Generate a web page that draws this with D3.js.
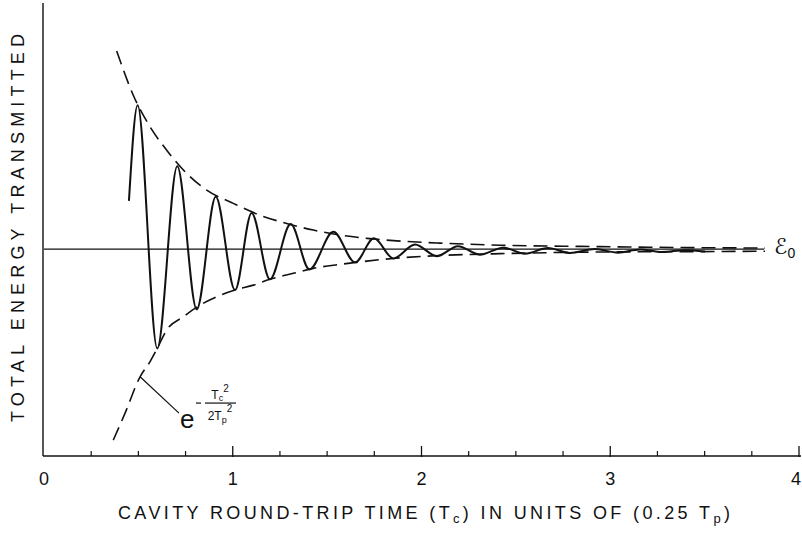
<!DOCTYPE html>
<html>
<head>
<meta charset="utf-8">
<script src="https://cdn.jsdelivr.net/npm/d3@7"></script>
<style>
  html, body { margin: 0; padding: 0; background: #fff; }
  svg { display: block; }
  text { font-family: "Liberation Sans", "DejaVu Sans", sans-serif; fill: #111; }
</style>
</head>
<body>
<svg id="chart" width="802" height="538"></svg>
<script>
// ---- data ----
const xTickLabels = ["0", "1", "2", "3", "4"];
const xMajorTicks = [0, 1, 2, 3, 4];
const xMinorTicks = [0.25, 0.5, 0.75, 1.25, 1.5, 1.75, 2.25, 2.5, 2.75, 3.25, 3.5, 3.75];
const E0 = 1.0;
const e0Extent = [0, 3.815];

// transmitted energy (damped oscillation), x = Tc in units of 0.25 Tp
const energyX = [0.450, 0.496, 0.600, 0.706, 0.809, 0.910, 1.012, 1.100, 1.197, 1.307, 1.406, 1.533, 1.648, 1.748, 1.851,
                 1.966, 2.082, 2.193, 2.310, 2.432, 2.548, 2.670, 2.787, 2.919, 3.041, 3.157, 3.274, 3.396, 3.502];
const energyY = [1.233, 1.696, 0.520, 1.401, 0.709, 1.253, 0.802, 1.175, 0.854, 1.121, 0.902, 1.084, 0.936, 1.052, 0.955,
                 1.022, 0.966, 1.014, 0.973, 1.007, 0.978, 1.005, 0.981, 1.000, 0.983, 0.998, 0.986, 0.995, 0.988];

// upper envelope (dashed)
const upperX = [0.385, 0.473, 0.562, 0.650, 0.756, 0.862, 1.003, 1.144, 1.286, 1.427, 1.568, 1.710, 1.869, 2.098, 2.416, 2.946, 3.475, 3.820];
const upperY = [1.958, 1.744, 1.591, 1.478, 1.366, 1.285, 1.221, 1.164, 1.124, 1.092, 1.068, 1.052, 1.040, 1.029, 1.019, 1.012, 1.007, 1.005];
// lower envelope (dashed)
const lowerX = [0.367, 0.429, 0.509, 0.562, 0.600, 0.650, 0.738, 0.826, 0.915, 1.012, 1.109, 1.197, 1.321, 1.427, 1.568, 1.710, 1.851, 2.098, 2.416, 2.946, 3.475, 3.820];
const lowerY = [0.077, 0.206, 0.383, 0.456, 0.520, 0.609, 0.673, 0.729, 0.770, 0.802, 0.826, 0.854, 0.883, 0.907, 0.926, 0.942, 0.955, 0.969, 0.978, 0.986, 0.988, 0.990];

// annotation: anchor on lower envelope, and position of the "e" label
const annAnchor = [0.509, 0.383];
const annLabel = [0.7205, 0.135];

// ---- drawing ----
const svg = d3.select("#chart");
const x = d3.scaleLinear().domain([0, 4]).range([44, 799]);
const y = d3.scaleLinear().domain([0, 2.18]).range([456, 5]);

const zip = (xs, ys) => xs.map((v, i) => [v, ys[i]]);

// axes lines
svg.append("line").attr("x1", x(0) - 1).attr("x2", x(0) - 1).attr("y1", y(2.18) - 2).attr("y2", y(0))
  .attr("stroke", "#111").attr("stroke-width", 1.4);
const xAxis = d3.axisBottom(x).tickValues(xMajorTicks).tickSize(0).tickFormat("");
svg.append("g").attr("transform", `translate(0,${y(0)})`).call(xAxis)
  .call(g => g.select(".domain").attr("stroke", "#111").attr("stroke-width", 1.4).attr("d", `M${x(0)-1},0H${x(4)+2}`));

// ticks (pointing up into the plot)
svg.append("g").selectAll("line.maj").data(xMajorTicks.filter(d => d > 0)).join("line")
  .attr("x1", d => x(d)).attr("x2", d => x(d)).attr("y1", y(0) - 10).attr("y2", y(0) + 1)
  .attr("stroke", "#111").attr("stroke-width", 1.3);
svg.append("g").selectAll("line.min").data(xMinorTicks).join("line")
  .attr("x1", d => x(d)).attr("x2", d => x(d)).attr("y1", y(0) - 5).attr("y2", y(0))
  .attr("stroke", "#111").attr("stroke-width", 1.2);

// tick labels
svg.append("g").selectAll("text").data(xMajorTicks).join("text")
  .attr("x", d => d === 4 ? x(d) - 3 : x(d)).attr("y", 485).attr("text-anchor", "middle")
  .attr("font-size", 18).text((d, i) => xTickLabels[i]);

// E0 reference line
svg.append("line").attr("x1", x(e0Extent[0])).attr("x2", x(e0Extent[1]))
  .attr("y1", y(E0)).attr("y2", y(E0)).attr("stroke", "#111").attr("stroke-width", 1.1);
svg.append("text").attr("x", x(e0Extent[1]) + 10).attr("y", y(E0) + 5)
  .attr("font-size", 22).attr("font-family", "DejaVu Serif").attr("font-style", "italic")
  .text("ℰ").append("tspan").attr("font-size", 14).attr("dy", 4).attr("font-style", "normal")
  .attr("font-family", "Liberation Sans").text("0");

// envelopes
const envLine = d3.line().x(d => x(d[0])).y(d => y(d[1])).curve(d3.curveMonotoneX);
[zip(upperX, upperY), zip(lowerX, lowerY)].forEach(pts => {
  svg.append("path").attr("d", envLine(pts)).attr("fill", "none")
    .attr("stroke", "#111").attr("stroke-width", 1.6).attr("stroke-dasharray", "14,7");
});

// transmitted energy curve
const eLine = d3.line().x(d => x(d[0])).y(d => y(d[1])).curve(d3.curveMonotoneX);
svg.append("path").attr("d", eLine(zip(energyX, energyY))).attr("fill", "none")
  .attr("stroke", "#111").attr("stroke-width", 2).attr("stroke-linejoin", "round");

// annotation
const ax = x(annAnchor[0]), ay = y(annAnchor[1]);
const lx = x(annLabel[0]), ly = y(annLabel[1]);
svg.append("line").attr("x1", ax).attr("y1", ay).attr("x2", lx - 1).attr("y2", ly - 15)
  .attr("stroke", "#111").attr("stroke-width", 1.2);
svg.append("text").attr("x", lx).attr("y", ly).attr("font-size", 26).text("e");
svg.append("line").attr("x1", lx + 16).attr("x2", lx + 21).attr("y1", ly - 25).attr("y2", ly - 25)
  .attr("stroke", "#111").attr("stroke-width", 1.2);
svg.append("line").attr("x1", lx + 25).attr("x2", lx + 56).attr("y1", ly - 25).attr("y2", ly - 25)
  .attr("stroke", "#111").attr("stroke-width", 1.2);
const num = svg.append("text").attr("x", lx + 40).attr("y", ly - 29).attr("font-size", 12).attr("text-anchor", "middle");
num.append("tspan").text("T");
num.append("tspan").attr("font-size", 9).attr("dy", 2).text("c");
num.append("tspan").attr("font-size", 10).attr("dy", -9).text("2");
const den = svg.append("text").attr("x", lx + 40).attr("y", ly - 8).attr("font-size", 12).attr("text-anchor", "middle");
den.append("tspan").text("2T");
den.append("tspan").attr("font-size", 9).attr("dy", 3).text("p");
den.append("tspan").attr("font-size", 10).attr("dy", -11).text("2");

// axis titles
const xt = svg.append("text").attr("x", 424).attr("y", 519).attr("text-anchor", "middle")
  .attr("font-size", 18).attr("textLength", 612).attr("lengthAdjust", "spacing");
xt.append("tspan").text("CAVITY ROUND-TRIP TIME (T");
xt.append("tspan").attr("font-size", 13).attr("dy", 4).text("c");
xt.append("tspan").attr("dy", -4).text(") IN UNITS OF (0.25 T");
xt.append("tspan").attr("font-size", 13).attr("dy", 4).text("p");
xt.append("tspan").attr("dy", -4).text(")");

svg.append("text").attr("transform", "translate(24,228) rotate(-90)").attr("text-anchor", "middle")
  .attr("font-size", 18).attr("textLength", 388).attr("lengthAdjust", "spacing")
  .text("TOTAL ENERGY TRANSMITTED");
</script>
</body>
</html>
